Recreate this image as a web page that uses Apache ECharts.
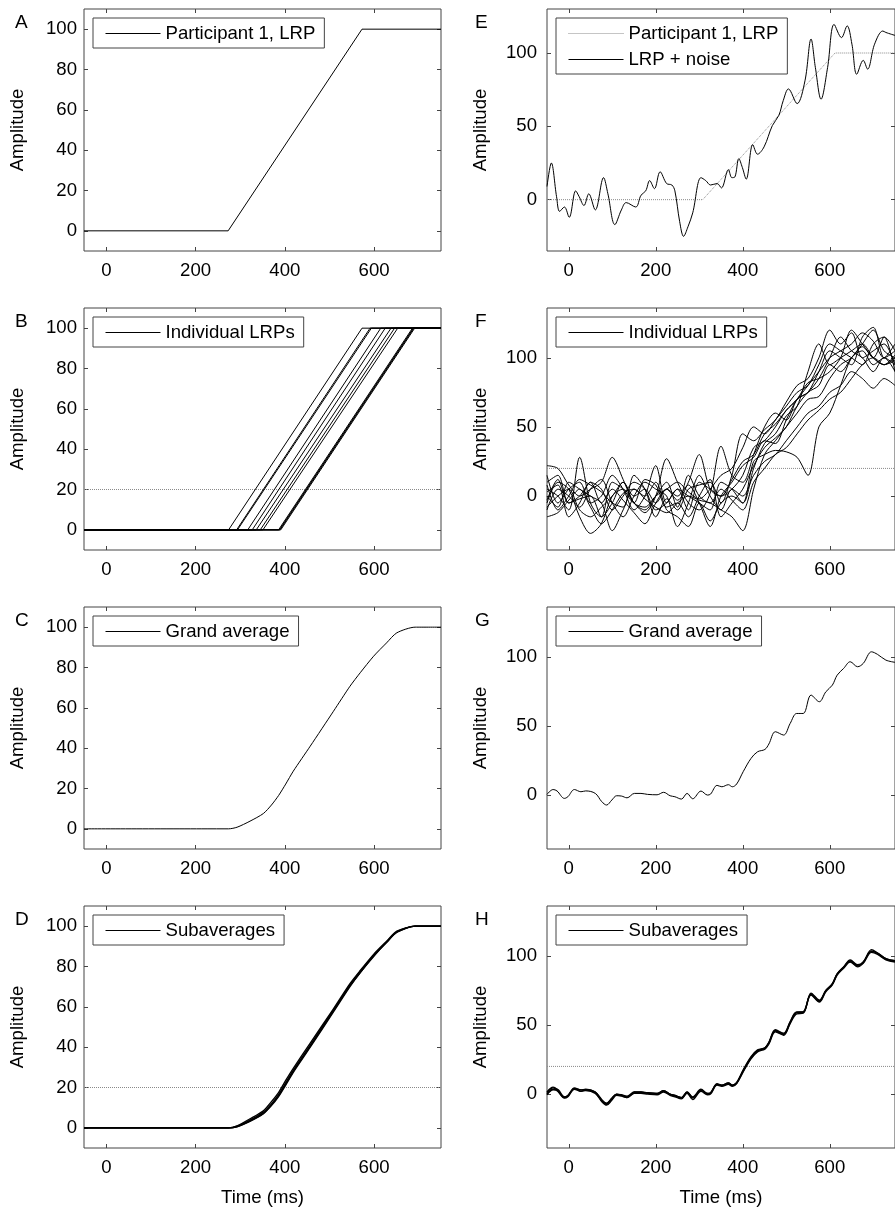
<!DOCTYPE html>
<html><head><meta charset="utf-8">
<script src="https://cdn.jsdelivr.net/npm/echarts@6/dist/echarts.min.js"></script>
<style>html,body{margin:0;padding:0;background:#fff;}#c{width:895px;height:1209px;}</style>
</head><body><div id="c"></div>
<script>
// ---------- tick labels ----------
const X_TICKS = [0, 200, 400, 600];
const Y_TICKS_LEFT = [0, 20, 40, 60, 80, 100];
const Y_TICKS_RIGHT = [0, 50, 100];
const PANEL_LETTERS = ['A', 'B', 'C', 'D', 'E', 'F', 'G', 'H'];

// ---------- A: participant 1 LRP ----------
const A_x = [-50, 273, 573, 750];
const A_y = [0, 0, 100, 100];

// ---------- B: individual LRP ramps (onset at 0, offset at 100) ----------
const B_onsets  = [274, 292, 294, 317, 327, 336, 345, 351, 386, 388, 389, 391];
const B_offsets = [573, 591, 594, 615, 625, 638, 646, 653, 686, 688, 689, 691];
const REF_LEVEL = 20;

// ---------- C: grand average ----------
const C_x = [-50, 274, 293, 322, 352, 370, 386, 402, 419, 457, 509, 546, 569, 599, 628, 651, 692, 750];
const C_y = [0, 0, 0.8, 3.8, 7.6, 11.8, 16.5, 22.2, 28.6, 41, 58.3, 70.7, 77.4, 85.6, 92.2, 97.2, 100, 100];

// ---------- D: subaverages (same time points as C) ----------
const D1 = [0, 0, 0.5, 3.2, 7, 11, 15.5, 21.2, 27.5, 40, 57.5, 70, 77, 85, 92, 97, 100, 100];
const D2 = [0, 0, 1, 4.5, 8.5, 13, 17.5, 23.5, 29.5, 42, 59, 71.5, 78, 86, 92.5, 97.5, 100, 100];
const D3 = [0, 0, 0.8, 3.8, 7.8, 11.9, 16.5, 22.3, 28.5, 41, 58.3, 70.7, 77.5, 85.5, 92, 97, 100, 100];
const D4 = [0, 0, 0.6, 3.5, 7.2, 11.4, 16, 21.8, 28, 40.5, 58, 70.5, 77, 85.3, 92, 97.2, 100, 100];

// ---------- E: LRP and LRP + noise ----------
const E_lrp_x = [-50, 308, 612, 750];
const E_lrp_y = [0, 0, 100, 100];
const E_x = [-50,-40,-28,-21,-10,1,16,24,35,46,61,80,90,106,121,132,154,166,177,186,197,210,225,237,244,255,264,274,285,304,315,326,341,351,367,375,382,391,399,408,423,434,449,468,483,493,505,525,543,557,567,580,595,610,627,640,651,662,677,687,703,722,729,750];
const E_y = [9,25,2,-8,-5,-12,6,2,-4,4,-7,15,4,-17,-7,-2,-5,3,6,13,7.5,19,11,10,6,-15,-25,-18.5,-9,15,13,10,11,8,20.5,15,15.5,28,22,14,37.5,31,36,50.5,57.5,67.5,75.5,65.5,81,109.5,90,68.5,90,119.5,110.5,118.5,106,85.5,95,89,106,115,114,112];

// ---------- F: individual noisy LRPs ----------
const F_x = [-50,-25,0,25,50,75,100,125,150,175,200,225,250,275,300,325,350,375,400,425,450,475,500,525,550,575,600,625,650,675,700,725,750];
const F1  = [-15,-12,-3,5,-8,-20,-10,2,5,-2,-8,-12,-5,0,-3,-5,-10,-15,-25,5,30,40,50,60,70,72,85,95,100,110,120,105,100];
const F2  = [22,20,8,0,5,10,28,12,-5,-8,0,5,10,3,-2,5,15,20,35,50,45,55,65,75,80,95,110,105,100,95,110,115,105];
const F3  = [5,0,-10,28,-5,-15,-5,10,0,5,-5,5,-3,10,30,5,0,5,15,35,40,50,62,70,82,85,90,100,120,110,100,95,98];
const F4  = [-5,10,5,-15,-27,-20,0,5,-5,-12,0,27,10,-5,-10,2,36,15,10,30,50,60,55,70,75,90,105,100,95,115,122,100,110];
const F5  = [0,-8,10,5,0,-5,-25,-10,5,0,10,-10,-15,-22,-5,-18,-5,0,-5,20,38,45,58,65,90,110,95,100,105,110,100,95,100];
const F6  = [10,15,-5,0,10,-5,5,-3,-12,-20,-5,5,0,8,-5,-22,0,10,22,28,40,38,55,70,75,85,100,115,105,100,90,100,95];
const F7  = [-10,5,0,-8,5,12,-5,-15,0,10,5,0,-22,-5,15,0,-10,5,0,15,25,30,40,50,60,65,75,80,90,85,78,85,80];
const F8  = [15,-5,5,10,-5,0,15,5,-10,0,22,-5,5,0,-5,-10,10,5,-5,25,30,33,32,28,15,50,60,80,100,105,95,100,90];
const F9  = [3,8,-15,-5,10,5,-10,0,10,5,-10,-5,5,-10,10,5,0,12,25,30,45,52,62,70,80,90,100,105,110,118,112,100,105];
const F10 = [-8,0,5,-10,-15,-8,0,10,-5,-10,0,10,-8,15,0,-5,5,-3,-10,10,20,30,35,45,55,62,70,75,85,95,100,95,102];
const F11 = [8,-10,0,12,8,3,-5,-8,15,5,-15,-2,-10,5,8,10,-5,15,45,40,48,55,68,80,85,100,120,110,118,100,105,110,95];
const F12 = [-3,12,-5,-2,0,-15,10,5,-5,12,8,-8,-5,-15,0,12,-15,-5,5,22,35,42,50,65,75,80,95,90,100,108,100,115,90];

// ---------- G: grand average of noisy LRPs ----------
const G_x = [-50,-36,-27,-10,-2,13,28,39,61,76,87,99,110,121,134,151,166,181,203,218,233,244,259,272,285,304,319,326,341,352,367,376,386,401,419,434,451,460,475,494,509,524,539,557,576,591,606,617,632,647,664,677,696,710,729,750];
const G_y = [0.5,4,3,-2.4,-1.2,4,2.4,3,1.2,-4.8,-7.2,-3.6,-0.5,-0.7,-2,1.2,1.2,0.5,0.2,2,-0.5,-1.2,-2.9,1.2,-2.7,2.9,0,0.7,7,6,7.5,6,8,16.9,26.5,31.3,33,36.9,45.8,43.4,51.8,59,59,72.3,67.5,74.7,79.5,86.7,91.6,96.4,92.8,95.2,103.6,101.7,97.6,96];

// ---------- H: subaverages (same time points as G) ----------
const H1 = [1.5,5,3.5,-2,-1,4.5,3,3.5,1.5,-4,-7,-3,0,-0.5,-1.5,1.5,1.5,1,0.5,2.5,0,-1,-2.5,1.5,-2,3.5,0.5,1,7.5,6.5,8,6.5,8.5,17.5,27,32,33.5,37.5,46.5,44,52.5,59.5,59.5,73,68,75,80,87,92,97,93.5,95.5,104.5,102,98,96.5];
const H2 = [-0.5,3,2.5,-3,-2,3.5,2,2.5,0.5,-5.5,-8,-4.5,-1,-1.5,-2.5,0.5,0.5,0,-0.5,1.5,-1,-2,-3.5,0.5,-4,2,-0.5,0,6.5,5.5,7,5.5,7.5,16,25.5,30.5,32.5,36,45,42.5,51,58,58.5,71.5,66.5,74,79,86,91,95.5,92,94.5,102.5,101,97,95.5];
const H3 = [1,4.5,3,-2.5,-1.5,4,2,3,1,-5,-7.5,-3.5,-0.5,-1,-2,1,1.5,0.5,0,2,-0.5,-1.5,-3,1,-3,3,0,0.5,7,6,7.5,6,8,17,26.5,31.5,33,37,46,43.5,52,59,59,72.5,67.5,75,79.5,86.5,91.5,96.5,93,95,103.5,101.5,97.5,96];
const H4 = [0,3.5,3.5,-2,-1,4,3,3,1.5,-4.5,-6.5,-3,0,-1,-2.5,1.5,1,1,0.5,2.5,0,-1,-2.5,1.5,-2.5,2.5,0.5,1,7,6.5,8,6.5,8,16.5,26,31,33.5,37,45.5,43,51.5,59,59.5,72,67,74.5,79.5,87,92,96,92.5,95.5,103,102,98,96.5];

// ---------- layout / style ----------
const FONT = '"Liberation Sans", Arial, Helvetica, sans-serif';
const FONT_SIZE = 18.6;
const COL_LEFT = [84, 547];
const GRID_W = 357, GRID_H = 242;
const ROW_TOP = [9, 308, 607, 906];
const X_RANGE = [-50, 750];
const AXIS_COLOR = '#444';
const LINE_COLOR = '#000';
const REF_COLOR = '#8a8a8a';

const zip = (xs, ys) => xs.map((x, i) => [x, ys[i]]);
const ramp = (on, off) => [[X_RANGE[0], 0], [on, 0], [off, 100], [X_RANGE[1], 100]];
const refLine = () => [[X_RANGE[0], REF_LEVEL], [X_RANGE[1], REF_LEVEL]];

const solid = {color: LINE_COLOR, width: 1};
const dotted = {color: REF_COLOR, width: 1, type: 'dotted'};

const panels = [
  {col: 0, row: 0, y: [-10, 110], ticks: Y_TICKS_LEFT, legend: ['A|Participant 1, LRP'],
   series: [{name: 'A|Participant 1, LRP', data: zip(A_x, A_y), style: solid}]},
  {col: 0, row: 1, y: [-10, 110], ticks: Y_TICKS_LEFT, legend: ['B|Individual LRPs'],
   series: [{name: 'B|ref', data: refLine(), style: dotted}]
     .concat(B_onsets.map((on, i) => ({name: 'B|Individual LRPs', data: ramp(on, B_offsets[i]), style: solid})))},
  {col: 0, row: 2, y: [-10, 110], ticks: Y_TICKS_LEFT, legend: ['C|Grand average'],
   series: [{name: 'C|Grand average', data: zip(C_x, C_y), style: solid, smooth: 0.25}]},
  {col: 0, row: 3, y: [-10, 110], ticks: Y_TICKS_LEFT, legend: ['D|Subaverages'], xname: true,
   series: [{name: 'D|ref', data: refLine(), style: dotted}]
     .concat([D1, D2, D3, D4].map(d => ({name: 'D|Subaverages', data: zip(C_x, d), style: {color: LINE_COLOR, width: 1.4}, smooth: 0.25})))},
  {col: 1, row: 0, y: [-35, 130], ticks: Y_TICKS_RIGHT, legend: ['E|Participant 1, LRP', 'E|LRP + noise'],
   series: [{name: 'E|Participant 1, LRP', data: zip(E_lrp_x, E_lrp_y), style: dotted},
            {name: 'E|LRP + noise', data: zip(E_x, E_y), style: solid, smooth: 0.35}]},
  {col: 1, row: 1, y: [-39, 136], ticks: Y_TICKS_RIGHT, legend: ['F|Individual LRPs'],
   series: [{name: 'F|ref', data: refLine(), style: dotted}]
     .concat([F1, F2, F3, F4, F5, F6, F7, F8, F9, F10, F11, F12].map(d => ({name: 'F|Individual LRPs', data: zip(F_x, d), style: solid, smooth: 0.3})))},
  {col: 1, row: 2, y: [-39, 136], ticks: Y_TICKS_RIGHT, legend: ['G|Grand average'],
   series: [{name: 'G|Grand average', data: zip(G_x, G_y), style: solid, smooth: 0.35}]},
  {col: 1, row: 3, y: [-39, 136], ticks: Y_TICKS_RIGHT, legend: ['H|Subaverages'], xname: true,
   series: [{name: 'H|ref', data: refLine(), style: dotted}]
     .concat([H1, H2, H3, H4].map(d => ({name: 'H|Subaverages', data: zip(G_x, d), style: {color: LINE_COLOR, width: 1.3}, smooth: 0.35})))}
];

const grid = [], xAxis = [], yAxis = [], legend = [], series = [], graphic = [];
const labelStyle = {fontSize: FONT_SIZE, color: '#000', fontFamily: FONT};

panels.forEach((p, i) => {
  const left = COL_LEFT[p.col], top = ROW_TOP[p.row];
  grid.push({left, top, width: GRID_W, height: GRID_H, show: true, borderColor: AXIS_COLOR, borderWidth: 1, backgroundColor: 'transparent', containLabel: false});
  const tick = vals => ({show: true, inside: true, length: 4, lineStyle: {color: AXIS_COLOR, width: 1}, customValues: vals});
  xAxis.push({
    type: 'value', gridIndex: i, position: 'bottom', min: X_RANGE[0], max: X_RANGE[1],
    axisLine: {show: false, onZero: false}, splitLine: {show: false},
    axisTick: tick(X_TICKS),
    axisLabel: Object.assign({customValues: X_TICKS, margin: 10}, labelStyle),
    name: p.xname ? 'Time (ms)' : '', nameLocation: 'middle', nameGap: 40,
    nameTextStyle: labelStyle
  });
  xAxis.push({
    type: 'value', gridIndex: i, position: 'top', min: X_RANGE[0], max: X_RANGE[1],
    axisLine: {show: false, onZero: false}, splitLine: {show: false},
    axisTick: tick(X_TICKS), axisLabel: {show: false}
  });
  yAxis.push({
    type: 'value', gridIndex: i, position: 'left', min: p.y[0], max: p.y[1],
    axisLine: {show: false, onZero: false}, splitLine: {show: false},
    axisTick: tick(p.ticks),
    axisLabel: Object.assign({customValues: p.ticks, margin: p.col === 0 ? 7 : 10}, labelStyle),
    name: 'Amplitude', nameLocation: 'middle', nameGap: 57, nameTextStyle: labelStyle
  });
  yAxis.push({
    type: 'value', gridIndex: i, position: 'right', min: p.y[0], max: p.y[1],
    axisLine: {show: false, onZero: false}, splitLine: {show: false},
    axisTick: tick(p.ticks), axisLabel: {show: false}
  });
  legend.push({
    show: true, left: left + 9, top: top + 9, orient: 'vertical',
    data: p.legend, formatter: n => n.split('|')[1],
    itemWidth: 55, itemHeight: 12, itemGap: 7, padding: [6, 9, 5, 12],
    itemStyle: {opacity: 0, borderWidth: 0},
    lineStyle: {width: 1},
    borderColor: AXIS_COLOR, borderWidth: 1, borderRadius: 0, backgroundColor: '#fff',
    selectedMode: false, textStyle: labelStyle, z: 10
  });
  p.series.forEach(s => {
    series.push({
      type: 'line', name: s.name, xAxisIndex: 2 * i, yAxisIndex: 2 * i,
      data: s.data, symbol: 'none', showSymbol: false,
      smooth: s.smooth || false,
      lineStyle: s.style, itemStyle: {color: s.style.color},
      silent: true, animation: false, clip: true
    });
  });
  graphic.push({
    type: 'text', left: p.col === 0 ? 15 : 475, top: top + 4,
    style: {text: PANEL_LETTERS[i], fontSize: 19, fontFamily: FONT, fill: '#000'}
  });
});

const chart = echarts.init(document.getElementById('c'), null, {renderer: 'canvas', width: 895, height: 1209});
chart.setOption({
  backgroundColor: '#fff', animation: false,
  grid, xAxis, yAxis, legend, series, graphic
});
</script>
</body></html>
